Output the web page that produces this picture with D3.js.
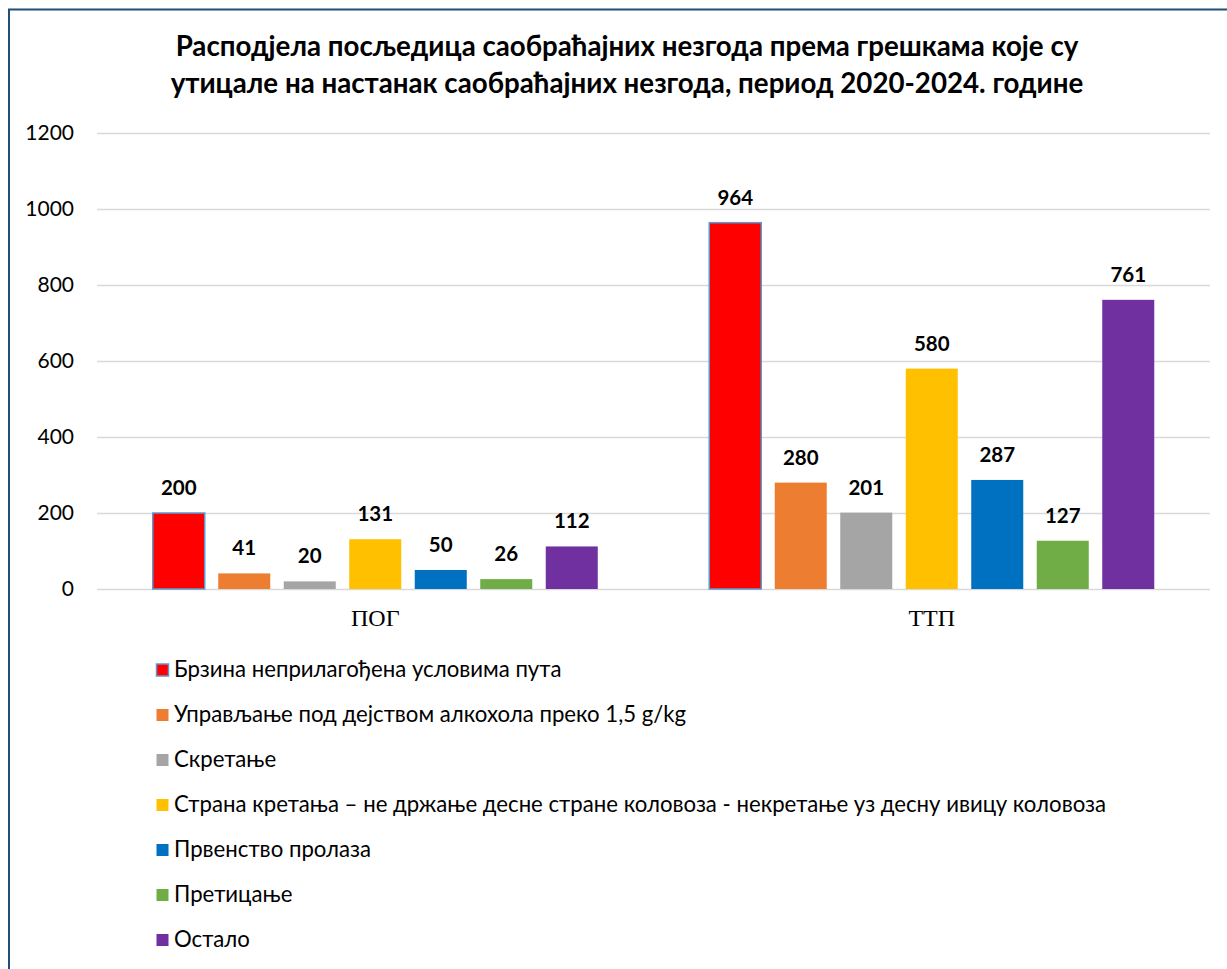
<!DOCTYPE html>
<html>
<head>
<meta charset="utf-8">
<script src="https://cdn.jsdelivr.net/npm/d3@7"></script>
<style>
  body { margin: 0; background: #fff; }
  svg { display: block; font-family: Lato, 'Open Sans', sans-serif; }
</style>
</head>
<body>
<div id="chart"></div>
<script>
// Chart data
const categories = ['ПОГ', 'ТТП'];
const seriesNames = [
  'Брзина неприлагођена условима пута',
  'Управљање под дејством алкохола преко 1,5 g/kg',
  'Скретање',
  'Страна кретања – не држање десне стране коловоза - некретање уз десну ивицу коловоза',
  'Првенство пролаза',
  'Претицање',
  'Остало'
];
const seriesColors = ['#FF0000', '#ED7D31', '#A5A5A5', '#FFC000', '#0070C0', '#70AD47', '#7030A0'];
const pogValues = [200, 41, 20, 131, 50, 26, 112];
const ttpValues = [964, 280, 201, 580, 287, 127, 761];
const yTicks = [0, 200, 400, 600, 800, 1000, 1200];
const titleLines = [
  'Расподјела посљедица саобраћајних незгода према грешкама које су',
  'утицале на настанак саобраћајних незгода, период 2020-2024. године'
];

// Build a table the chart can iterate over
const table = categories.map((cat, ci) => ({
  category: cat,
  values: seriesNames.map((s, si) => ({ series: s, idx: si, value: [pogValues, ttpValues][ci][si] }))
}));

const width = 1227, height = 969;
const plot = { left: 97, right: 1210, top: 133, bottom: 589 };

const svg = d3.select('#chart').append('svg')
  .attr('width', width)
  .attr('height', height);

svg.append('rect').attr('width', width).attr('height', height).attr('fill', '#fff');

// Frame (only left and top edges are visible in the picture)
svg.append('path')
  .attr('d', `M9,${height + 5} V9.5 H${width + 5}`)
  .attr('fill', 'none')
  .attr('stroke', '#1F4E79')
  .attr('stroke-width', 2);

// Scales
const x0 = d3.scaleBand()
  .domain(categories)
  .range([plot.left, plot.right]);

const x1 = d3.scaleBand()
  .domain(seriesNames)
  .range([0, x0.bandwidth()])
  .paddingInner(0.206)
  .paddingOuter(0.851);

const y = d3.scaleLinear()
  .domain([0, 1200])
  .range([plot.bottom, plot.top]);

// Grid lines
svg.append('g')
  .attr('class', 'grid')
  .attr('transform', `translate(${plot.left},0)`)
  .call(d3.axisLeft(y).tickValues(yTicks).tickSize(-(plot.right - plot.left)).tickFormat(''))
  .call(g => g.select('.domain').remove())
  .call(g => g.selectAll('line').attr('stroke', '#D9D9D9').attr('stroke-width', 1.5));

// Y axis labels
svg.append('g')
  .attr('class', 'y-axis')
  .attr('transform', `translate(${plot.left},0)`)
  .call(d3.axisLeft(y).tickValues(yTicks).tickSize(0).tickPadding(23).tickFormat(d3.format('d')))
  .call(g => g.select('.domain').remove())
  .call(g => g.selectAll('text')
    .attr('font-family', 'Lato, sans-serif')
    .attr('font-size', 21)
    .attr('fill', '#000'));

// X axis labels
svg.append('g')
  .attr('class', 'x-axis')
  .attr('transform', `translate(0,${plot.bottom})`)
  .call(d3.axisBottom(x0).tickSize(0).tickPadding(20))
  .call(g => g.select('.domain').remove())
  .call(g => g.selectAll('text')
    .attr('font-family', "'Liberation Serif', 'Times New Roman', serif")
    .attr('font-size', 24)
    .attr('fill', '#000'));

// Bars
const groups = svg.append('g').selectAll('g')
  .data(table)
  .join('g')
    .attr('transform', d => `translate(${x0(d.category)},0)`);

groups.selectAll('rect')
  .data(d => d.values)
  .join('rect')
    .attr('x', d => x1(d.series))
    .attr('y', d => y(d.value))
    .attr('width', x1.bandwidth())
    .attr('height', d => y(0) - y(d.value))
    .attr('fill', d => seriesColors[d.idx])
    .attr('stroke', d => d.idx === 0 ? '#5B9BD5' : 'none')
    .attr('stroke-width', 1.5);

// Value labels
groups.selectAll('text.value')
  .data(d => d.values)
  .join('text')
    .attr('class', 'value')
    .attr('x', d => x1(d.series) + x1.bandwidth() / 2)
    .attr('y', d => y(d.value) - 18)
    .attr('text-anchor', 'middle')
    .attr('font-size', 20.5)
    .attr('font-weight', 'bold')
    .attr('fill', '#000')
    .text(d => d.value);

// Title
svg.append('text')
  .attr('x', 627)
  .attr('text-anchor', 'middle')
  .attr('font-size', 27.7)
  .attr('font-weight', 'bold')
  .attr('fill', '#000')
  .selectAll('tspan')
  .data(titleLines)
  .join('tspan')
    .attr('x', 627)
    .attr('y', (d, i) => 56 + i * 37)
    .text(d => d);

// Legend
const legend = svg.append('g')
  .attr('class', 'legend')
  .attr('transform', 'translate(156,670)');

const items = legend.selectAll('g')
  .data(seriesNames)
  .join('g')
    .attr('transform', (d, i) => `translate(0,${i * 45})`);

items.append('rect')
  .attr('x', 0.5)
  .attr('y', -6)
  .attr('width', 12)
  .attr('height', 12)
  .attr('fill', (d, i) => seriesColors[i])
  .attr('stroke', (d, i) => i === 0 ? '#5B9BD5' : 'none')
  .attr('stroke-width', 1.5);

items.append('text')
  .attr('x', 18)
  .attr('y', 7)
  .attr('font-size', 22.2)
  .attr('fill', '#000')
  .text(d => d);
</script>
</body>
</html>
